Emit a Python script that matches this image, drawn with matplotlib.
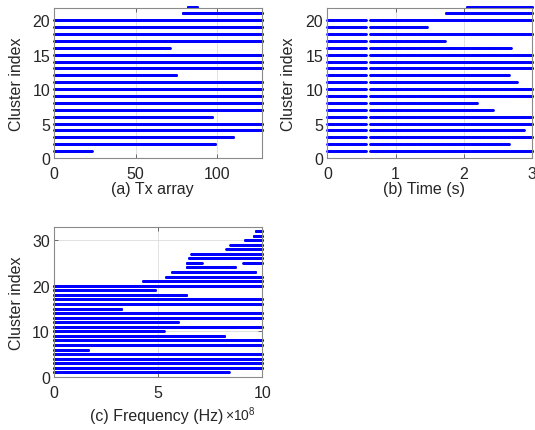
import numpy as np
import matplotlib
matplotlib.use('Agg')
import matplotlib.pyplot as plt

plt.rcParams['font.family'] = ['Liberation Sans', 'DejaVu Sans']
plt.rcParams['mathtext.fontset'] = 'custom'
plt.rcParams['mathtext.rm'] = 'Liberation Sans'

# (a) extent of each cluster over the Tx array (element index)
tx_cluster = list(range(1, 23))
tx_start = [0] * 20 + [79, 82]
tx_end = [23, 99, 110, 128, 128, 97, 128, 128, 128, 128, 128,
          75, 128, 128, 128, 71, 128, 128, 128, 128, 128, 88]

# (b) extent of each cluster in time (s); snapshot missing near 0.6 s
t_cluster = list(range(1, 23))
t_start = [0] * 20 + [1.73, 2.04]
t_end = [3, 2.66, 3, 2.88, 3, 3, 2.42, 2.19, 3, 3, 2.77,
         2.66, 3, 3, 3, 2.69, 1.72, 3, 1.46, 3, 3, 3]
t_missing = (0.565, 0.625)

# (c) extent of each cluster in frequency (Hz); cluster 25 has two pieces
f_cluster = list(range(1, 26)) + [25] + list(range(26, 33))
f_start = [0] * 20 + [4.26e8, 5.37e8, 5.67e8, 6.37e8, 6.37e8, 9.09e8,
                      6.48e8, 6.59e8, 8.28e8, 8.47e8, 9.17e8, 9.58e8, 9.68e8]
f_end = [8.38e8, 10e8, 10e8, 10e8, 10e8, 1.65e8, 10e8, 10e8, 8.18e8, 5.27e8,
         10e8, 5.97e8, 10e8, 10e8, 3.25e8, 10e8, 10e8, 6.37e8, 4.86e8, 10e8,
         10e8, 10e8, 9.68e8, 8.69e8, 7.09e8, 10e8,
         10e8, 10e8, 10e8, 10e8, 10e8, 10e8, 10e8]

BLUE = (0, 0, 1)
TXT = '#262626'
FS = 11.5


def style_axes(ax):
  ax.grid(True, color='#dcdcdc', linewidth=0.6)
  ax.set_axisbelow(True)
  for s in ax.spines.values():
    s.set_color('#8a8a8a')
    s.set_linewidth(0.8)
  ax.tick_params(direction='in', length=3, width=0.6, color='#555555',
                 top=True, right=True, labelsize=FS, labelcolor=TXT)
  ax.tick_params(axis='x', pad=6)
  ax.tick_params(axis='y', pad=3)


def draw_rows(ax, rows, starts, ends, step, gap=None):
  for r, a, b in zip(rows, starts, ends):
    x = np.arange(a, b + step / 2, step)
    if gap is not None and a < gap[0]:
      x = x[(x <= gap[0]) | (x >= gap[1])]
    ax.plot(x, np.full(len(x), r), linestyle='none', marker='o', ms=2.0,
            mew=0, color=BLUE, clip_on=False)


fig = plt.figure(figsize=(5.35, 4.31), dpi=100)

# (a) Tx array
ax1 = fig.add_axes([0.1015, 0.631, 0.3888, 0.3492])
draw_rows(ax1, tx_cluster, tx_start, tx_end, 0.25)
ax1.set_xlim(0, 128)
ax1.set_ylim(0, 21.85)
ax1.set_xticks([0, 50, 100])
ax1.set_yticks([0, 5, 10, 15, 20])
style_axes(ax1)
ax1.set_xlabel('(a) Tx array', fontsize=FS, color=TXT)
ax1.set_ylabel('Cluster index', fontsize=FS, color=TXT)
ax1.xaxis.set_label_coords(0.47, -0.155)
ax1.yaxis.set_label_coords(-0.145, 0.5)

# (b) Time
ax2 = fig.add_axes([0.6118, 0.631, 0.3832, 0.3492])
draw_rows(ax2, t_cluster, t_start, t_end, 0.01, gap=t_missing)
ax2.set_xlim(0, 3)
ax2.set_ylim(0, 21.85)
ax2.set_xticks([0, 1, 2, 3])
ax2.set_yticks([0, 5, 10, 15, 20])
style_axes(ax2)
ax2.set_xlabel('(b) Time (s)', fontsize=FS, color=TXT)
ax2.set_ylabel('Cluster index', fontsize=FS, color=TXT)
ax2.xaxis.set_label_coords(0.47, -0.155)
ax2.yaxis.set_label_coords(-0.155, 0.5)

# (c) Frequency, shown in units of 1e8 Hz
ax3 = fig.add_axes([0.1009, 0.123, 0.3893, 0.3473])
draw_rows(ax3, f_cluster, np.array(f_start) / 1e8, np.array(f_end) / 1e8, 0.02)
ax3.set_xlim(0, 10)
ax3.set_ylim(0, 32.8)
ax3.set_xticks([0, 5, 10])
ax3.set_yticks([0, 10, 20, 30])
style_axes(ax3)
ax3.set_xlabel('(c) Frequency (Hz)', fontsize=FS, color=TXT)
ax3.set_ylabel('Cluster index', fontsize=FS, color=TXT)
ax3.xaxis.set_label_coords(0.495, -0.205)
ax3.yaxis.set_label_coords(-0.145, 0.5)
fig.text(225 / 535, 1 - 421 / 431, '×10$^{8}$', fontsize=10, color=TXT,
         ha='left', va='baseline')

fig.savefig('out.png', dpi=100)
